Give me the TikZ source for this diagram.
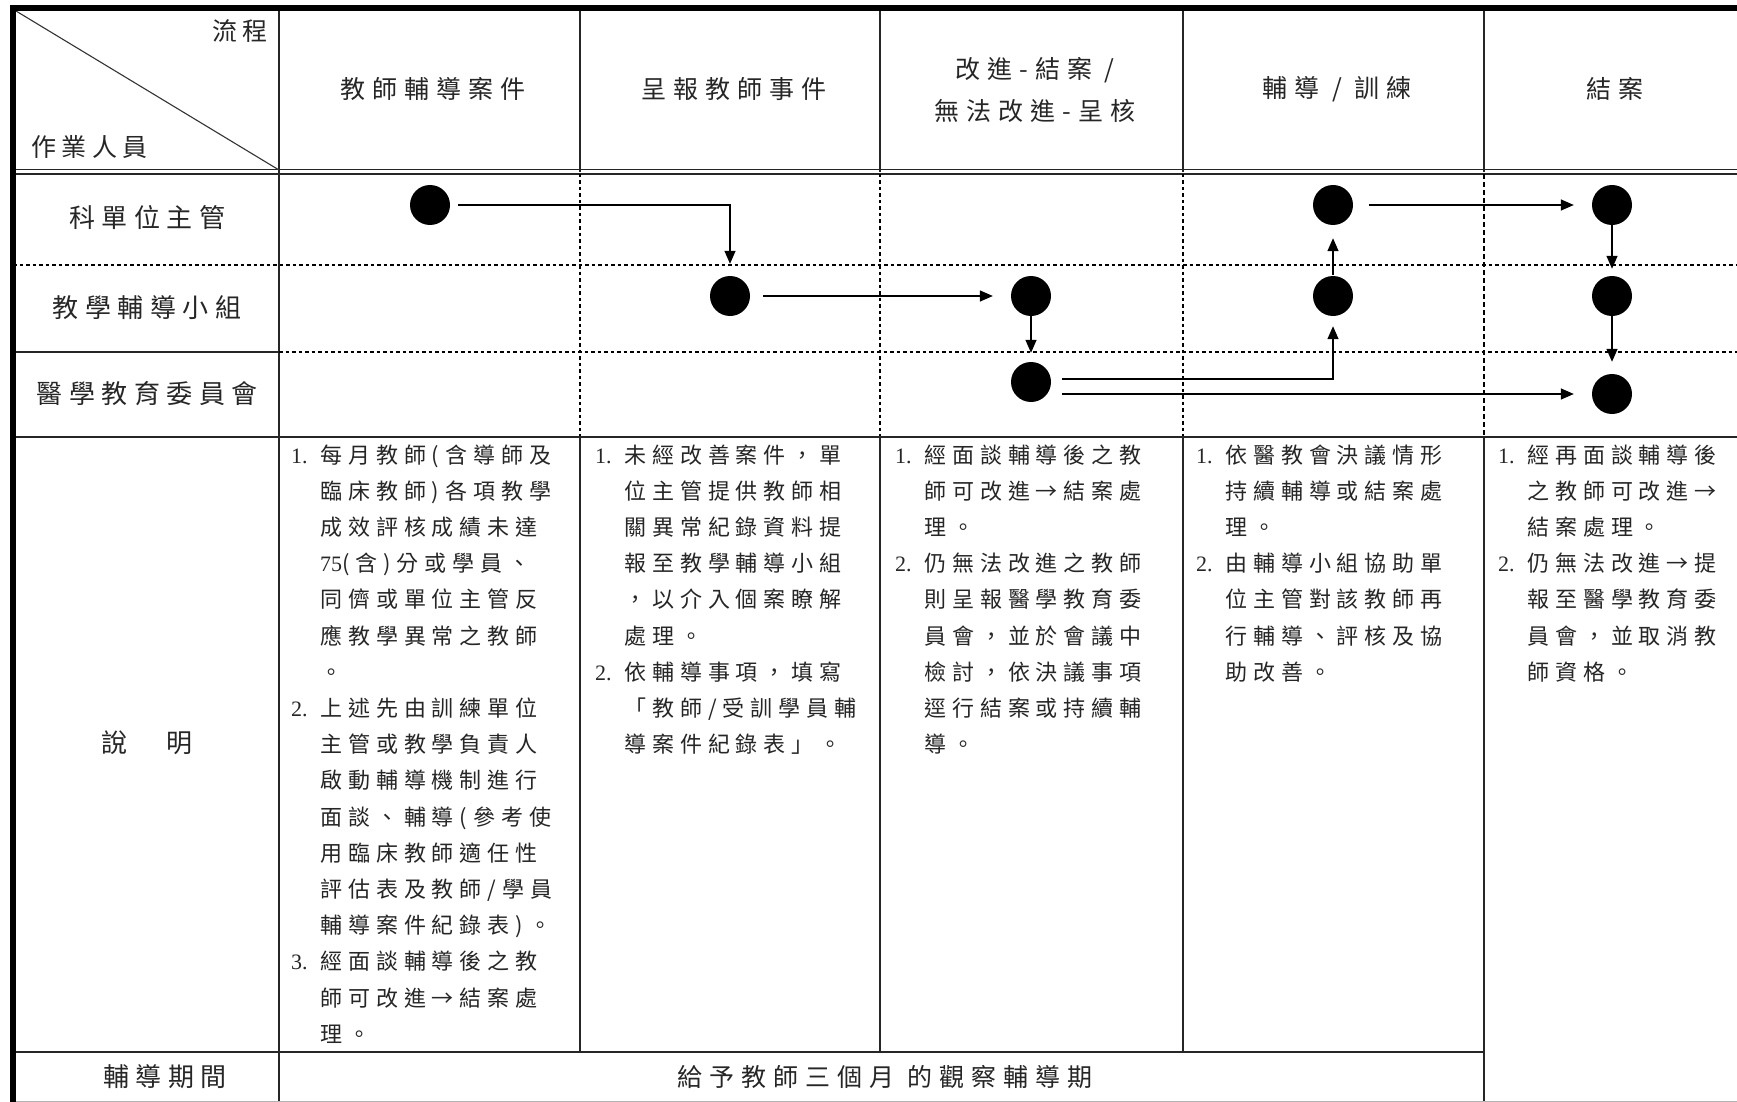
\documentclass[tikz,border=0pt]{standalone}
\usepackage{fontspec}
\usetikzlibrary{arrows.meta}
\setmainfont{Liberation Serif}
\newfontfamily\cjkA[LetterSpace=27]{Noto Sans CJK TC}
\newfontfamily\cjkB[LetterSpace=28]{Noto Sans CJK TC}
\newfontfamily\cjkL[LetterSpace=25]{Noto Sans CJK TC}
\newfontfamily\cjkC[LetterSpace=22]{Noto Sans CJK TC}
\newfontfamily\latinf{Liberation Serif}
\newcommand\nm[1]{\makebox[29pt][l]{\latinf #1}}
\newcommand\ii{\hspace*{29pt}}
\begin{document}
\begin{tikzpicture}[x=1pt,y=-1pt,
  thinln/.style={line width=1.4pt, draw=black!85},
  dotln/.style={line width=2pt, draw=black, dash pattern=on 3.5pt off 3pt},
  thindash/.style={line width=1.1pt, draw=black, dash pattern=on 5pt off 3pt},
  dotnode/.style={circle, fill=black, minimum size=40pt, inner sep=0pt},
  arr/.style={line width=1.4pt, draw=black, -{Triangle[length=13pt,width=11pt]}},
  desc/.style={anchor=base west, inner sep=0pt, align=left, text=black!85,
    font=\cjkA\fontsize{22pt}{36.2pt}\selectfont},
  head/.style={inner sep=0pt, align=center, text=black!85,
    font=\cjkB\fontsize{25pt}{42pt}\selectfont},
  lane/.style={inner sep=0pt, text=black!85,
    font=\cjkL\fontsize{26pt}{30pt}\selectfont},
  corner/.style={inner sep=0pt, text=black!85,
    font=\cjkC\fontsize{25pt}{30pt}\selectfont}
]
\useasboundingbox (0,0) rectangle (1737,1102);
\fill[white] (0,0) rectangle (1737,1102);

% ---------- header ----------
\foreach \x in {279,580,880,1183,1484}
  \draw[thinln] (\x,8) -- (\x,172);
\draw[thinln, line width=1.1pt] (13,169.5) -- (1737,169.5);
\draw[thinln, line width=1.1pt] (13,174) -- (1737,174);
\draw[line width=1.1pt, black!80] (16,11) -- (279,170);

\node[corner, anchor=east] (hflow) at (268,31) {流程};
\node[corner, anchor=west] (hstaff) at (31,147) {作業人員};
\node[head] (h1) at (433,89) {教師輔導案件};
\node[head] (h2) at (734,89) {呈報教師事件};
\node[head] (h3) at (1035,90) {改進-結案 /\\無法改進-呈核};
\node[head] (h4) at (1337,89) {輔導 / 訓練};
\node[head] (h5) at (1615,89) {結案};

% ---------- swimlane grid ----------
\draw[thinln] (279,172) -- (279,1102);
\draw[dotln] (13,265) -- (1737,265);
\draw[thinln] (13,352) -- (279,352);
\draw[dotln] (279,352) -- (1737,352);
\foreach \x in {580,880,1183}
  \draw[dotln] (\x,174) -- (\x,437);
\draw[thindash] (1484,174) -- (1484,437);
\draw[thinln, line width=1.6pt] (13,437) -- (1737,437);
\foreach \x in {580,880,1183}
  \draw[thinln] (\x,437) -- (\x,1052);
\draw[thinln] (1484,437) -- (1484,1102);
\draw[thinln, line width=1.6pt] (13,1052) -- (1484,1052);
\draw[line width=1pt, black!30] (13,1101) -- (1737,1101);

% thick outer borders
\draw[line width=6pt, black] (10,8) -- (1737,8);
\draw[line width=6pt, black] (13,5) -- (13,1102);

% lane labels
\node[lane] (l1) at (147,218) {科單位主管};
\node[lane] (l2) at (147,308) {教學輔導小組};
\node[lane] (l3) at (147,394) {醫學教育委員會};
\node[lane] (l4) at (147,743) {說\hspace{40pt}明};
\node[lane] (l5) at (165,1077) {輔導期間};
\node[head] (period) at (885,1077) {給予教師三個月 的觀察輔導期};

% ---------- flow dots ----------
\node[dotnode] (d1) at (430,205) {};
\node[dotnode] (d2) at (730,296) {};
\node[dotnode] (d3) at (1031,296) {};
\node[dotnode] (d4) at (1031,382) {};
\node[dotnode] (d5) at (1333,205) {};
\node[dotnode] (d6) at (1333,296) {};
\node[dotnode] (d7) at (1612,205) {};
\node[dotnode] (d8) at (1612,296) {};
\node[dotnode] (d9) at (1612,394) {};

\draw[arr, shorten <=8pt, shorten >=12pt] (d1) -| (d2);
\draw[arr, shorten <=13pt, shorten >=18pt] (d2) -- (d3);
\draw[arr, shorten >=9pt] (d3) -- (d4);
\draw[arr, shorten <=11pt, shorten >=10pt] ([yshift=3pt]d4.east) -| (d6);
\draw[arr, shorten <=11pt, shorten >=18pt] ([yshift=-12pt]d4.east) -- (d9.west);
\draw[arr, shorten <=1pt, shorten >=13pt] (d6) -- (d5);
\draw[arr, shorten <=16pt, shorten >=18pt] (d5) -- (d7);
\draw[arr, shorten >=7pt] (d7) -- (d8);
\draw[arr, shorten >=12pt] (d8) -- (d9);

% ---------- descriptions (base = last line baseline) ----------
\node[desc] (t1) at (291,1042.2) {\nm{1.}每月教師(含導師及\\%
\ii 臨床教師)各項教學\\%
\ii 成效評核成績未達\\%
\ii{\latinf 75}(含)分或學員、\\%
\ii 同儕或單位主管反\\%
\ii 應教學異常之教師\\%
\ii 。\\%
\nm{2.}上述先由訓練單位\\%
\ii 主管或教學負責人\\%
\ii 啟動輔導機制進行\\%
\ii 面談、輔導(參考使\\%
\ii 用臨床教師適任性\\%
\ii 評估表及教師/學員\\%
\ii 輔導案件紀錄表)。\\%
\nm{3.}經面談輔導後之教\\%
\ii 師可改進→結案處\\%
\ii 理。};

\node[desc] (t2) at (595,752.6) {\nm{1.}未經改善案件，單\\%
\ii 位主管提供教師相\\%
\ii 關異常紀錄資料提\\%
\ii 報至教學輔導小組\\%
\ii ，以介入個案瞭解\\%
\ii 處理。\\%
\nm{2.}依輔導事項，填寫\\%
\ii 「教師/受訓學員輔\\%
\ii 導案件紀錄表」。};

\node[desc] (t3) at (895,752.6) {\nm{1.}經面談輔導後之教\\%
\ii 師可改進→結案處\\%
\ii 理。\\%
\nm{2.}仍無法改進之教師\\%
\ii 則呈報醫學教育委\\%
\ii 員會，並於會議中\\%
\ii 檢討，依決議事項\\%
\ii 逕行結案或持續輔\\%
\ii 導。};

\node[desc] (t4) at (1196,680.2) {\nm{1.}依醫教會決議情形\\%
\ii 持續輔導或結案處\\%
\ii 理。\\%
\nm{2.}由輔導小組協助單\\%
\ii 位主管對該教師再\\%
\ii 行輔導、評核及協\\%
\ii 助改善。};

\node[desc] (t5) at (1498,680.2) {\nm{1.}經再面談輔導後\\%
\ii 之教師可改進→\\%
\ii 結案處理。\\%
\nm{2.}仍無法改進→提\\%
\ii 報至醫學教育委\\%
\ii 員會，並取消教\\%
\ii 師資格。};
\end{tikzpicture}
\end{document}
